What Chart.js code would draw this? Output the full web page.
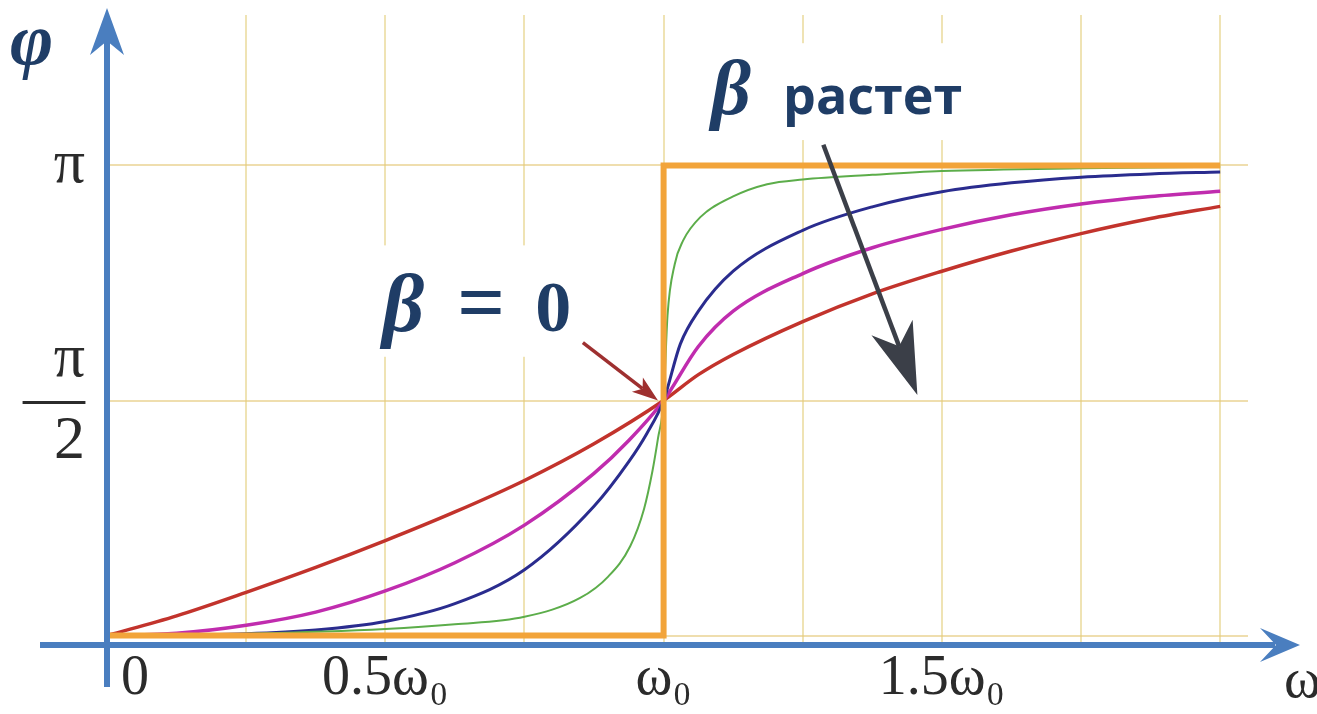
<!DOCTYPE html>
<html>
<head>
<meta charset="utf-8">
<script src="https://cdn.jsdelivr.net/npm/chart.js@4/dist/chart.umd.min.js"></script>
<style>
  html, body { margin: 0; padding: 0; background: #fff; }
  #wrap { width: 1317px; height: 714px; position: relative; }
</style>
</head>
<body>
<div id="wrap"><canvas id="phase"></canvas></div>
<script>
// frequency in units of ω0, phase in units of π
const omegaTicks = [0, 0.25, 0.5, 0.75, 1, 1.25, 1.5, 1.75, 2]
const omegaLabels = { 0: '\u20030', 0.5: '0.5ω₀', 1: 'ω₀', 1.5: '1.5ω₀' }
const phiTicks = [0, 0.5, 1]
const phiLabels = { 0.5: ['π', '—', '2'], 1: 'π' }

// β = 0 : ideal step at resonance
const stepW   = [0, 1, 1, 2]
const stepPhi = [0, 0, 1, 1]

// smallest damping
const greenW   = [0, 0.25, 0.5, 0.625, 0.75, 0.85, 0.9, 0.94, 0.965, 0.98, 0.99, 1, 1.007, 1.02, 1.035, 1.066, 1.125, 1.186, 1.25, 1.375, 1.5, 1.75, 2]
const greenPhi = [0, 0.004, 0.014, 0.024, 0.04, 0.08, 0.125, 0.19, 0.27, 0.35, 0.42, 0.5, 0.68, 0.79, 0.84, 0.89, 0.934, 0.96, 0.97, 0.98, 0.988, 0.994, 0.997]

const blueW   = [0, 0.25, 0.375, 0.5, 0.625, 0.75, 0.875, 0.9375, 0.97, 1, 1.03, 1.0625, 1.125, 1.25, 1.375, 1.5, 1.625, 1.75, 1.875, 2]
const bluePhi = [0, 0.004, 0.012, 0.03, 0.068, 0.14, 0.275, 0.37, 0.43, 0.5, 0.62, 0.69, 0.775, 0.862, 0.912, 0.944, 0.963, 0.975, 0.982, 0.986]

const magentaW   = [0, 0.125, 0.25, 0.375, 0.5, 0.625, 0.75, 0.875, 0.9375, 1, 1.0625, 1.125, 1.25, 1.375, 1.5, 1.625, 1.75, 1.875, 2]
const magentaPhi = [0, 0.005, 0.022, 0.05, 0.095, 0.155, 0.235, 0.345, 0.415, 0.5, 0.615, 0.69, 0.77, 0.825, 0.864, 0.895, 0.918, 0.934, 0.945]

// largest damping
const redW   = [0, 0.125, 0.25, 0.375, 0.5, 0.625, 0.75, 0.875, 1, 1.0625, 1.125, 1.25, 1.375, 1.5, 1.625, 1.75, 1.875, 2]
const redPhi = [0, 0.042, 0.092, 0.145, 0.202, 0.263, 0.33, 0.408, 0.5, 0.555, 0.598, 0.668, 0.727, 0.775, 0.818, 0.855, 0.887, 0.913]

const pts = (w, phi) => w.map((v, i) => ({ x: v, y: phi[i] }))

const AXIS_BLUE = '#4a7ebf'
const NAVY = '#1f3d66'
const SERIF = "'Liberation Serif', 'DejaVu Serif', serif"

function arrowHead(ctx, x1, y1, x2, y2, len, half, notch) {
  const dx = x2 - x1, dy = y2 - y1
  const d = Math.hypot(dx, dy)
  const ux = dx / d, uy = dy / d
  const bx = x2 - ux * len, by = y2 - uy * len
  ctx.beginPath()
  ctx.moveTo(x2, y2)
  ctx.lineTo(bx - uy * half, by + ux * half)
  ctx.lineTo(x2 - ux * len * notch, y2 - uy * len * notch)
  ctx.lineTo(bx + uy * half, by - ux * half)
  ctx.closePath()
  ctx.fill()
}

function arrow(ctx, x1, y1, x2, y2, color, width, len, half, notch) {
  const d = Math.hypot(x2 - x1, y2 - y1)
  const ex = x2 - (x2 - x1) / d * len * notch
  const ey = y2 - (y2 - y1) / d * len * notch
  ctx.strokeStyle = color
  ctx.fillStyle = color
  ctx.lineWidth = width
  ctx.beginPath()
  ctx.moveTo(x1, y1)
  ctx.lineTo(ex, ey)
  ctx.stroke()
  arrowHead(ctx, x1, y1, x2, y2, len, half, notch)
}

// white panels behind the two captions, placed in data space
const panels = [
  { w0: 0.437, w1: 0.90, p0: 0.83, p1: 0.593 },
  { w0: 1.051, w1: 1.572, p0: 1.26, p1: 1.054 }
]

const decorations = {
  id: 'decorations',
  beforeDatasetsDraw(chart) {
    const { ctx, scales: { x, y } } = chart
    ctx.save()
    ctx.fillStyle = '#fff'
    panels.forEach(p => {
      const l = x.getPixelForValue(p.w0), r = x.getPixelForValue(p.w1)
      const t = y.getPixelForValue(p.p0), b = y.getPixelForValue(p.p1)
      ctx.fillRect(l, t, r - l, b - t)
    })
    ctx.restore()
  },
  afterDatasetsDraw(chart) {
    const { ctx, chartArea: a, scales: { x, y } } = chart
    const x0 = x.getPixelForValue(0)
    ctx.save()

    // axes with arrow heads
    ctx.strokeStyle = AXIS_BLUE
    ctx.fillStyle = AXIS_BLUE
    ctx.lineWidth = 6
    ctx.beginPath()
    ctx.moveTo(40, a.bottom)
    ctx.lineTo(1275, a.bottom)
    ctx.moveTo(x0, a.bottom + 42)
    ctx.lineTo(x0, 40)
    ctx.stroke()
    arrowHead(ctx, 40, a.bottom, 1300, a.bottom, 40, 17, 0.6)
    arrowHead(ctx, x0, a.bottom, x0, 8, 47, 17, 0.7)

    // axis names
    ctx.fillStyle = NAVY
    ctx.font = `bold italic 74px ${SERIF}`
    ctx.textAlign = 'left'
    ctx.textBaseline = 'alphabetic'
    ctx.fillText('φ', 10, 64)
    ctx.fillStyle = '#2b2b2b'
    ctx.font = `56px ${SERIF}`
    ctx.fillText('ω', 1284, 697)

    // β = 0 caption with a pointer to the crossing point
    const p1 = panels[0]
    const bx = x.getPixelForValue(p1.w0), by = y.getPixelForValue(p1.p0)
    ctx.fillStyle = NAVY
    ctx.font = `bold italic 82px ${SERIF}`
    ctx.fillText('β', bx + 32, by + 86)
    ctx.font = `bold 84px ${SERIF}`
    ctx.fillText('=', bx + 107, by + 86)
    ctx.font = `bold 72px ${SERIF}`
    ctx.fillText('0', bx + 185, by + 86)
    arrow(ctx, x.getPixelForValue(0.855), y.getPixelForValue(0.623),
      x.getPixelForValue(0.99), y.getPixelForValue(0.5), '#9e3030', 3.5, 26, 9, 0.75)

    // "β растет" caption with the trend arrow
    const p2 = panels[1]
    const cx = x.getPixelForValue(p2.w0), cy = y.getPixelForValue(p2.p0)
    ctx.fillStyle = NAVY
    ctx.font = `bold italic 78px ${SERIF}`
    ctx.fillText('β', cx + 19, cy + 71)
    ctx.font = "bold 52px 'Open Sans', 'Noto Sans', sans-serif"
    ctx.fillText('растет', cx + 91, cy + 71)
    arrow(ctx, x.getPixelForValue(1.287), y.getPixelForValue(1.044),
      x.getPixelForValue(1.456), y.getPixelForValue(0.512), '#3b3f48', 4.5, 72, 22, 0.72)

    ctx.restore()
  }
}

const line = (data, color, width, order) => ({
  data, borderColor: color, borderWidth: width, order,
  pointRadius: 0, fill: false, cubicInterpolationMode: 'monotone'
})

// keep the plot area exactly where the axes are, without label overhang
const noOverhang = s => { s.paddingTop = 0; s.paddingBottom = 0; s.paddingLeft = 0; s.paddingRight = 0 }

new Chart(document.getElementById('phase'), {
  type: 'line',
  data: {
    datasets: [
      { ...line(pts(stepW, stepPhi), '#f2a43a', 6, 0), cubicInterpolationMode: 'default', tension: 0 },
      line(pts(greenW, greenPhi), '#5cad4a', 2, 1),
      line(pts(blueW, bluePhi), '#2a2c8e', 3, 2),
      line(pts(magentaW, magentaPhi), '#c02cae', 3.5, 3),
      line(pts(redW, redPhi), '#c2332c', 3.5, 4)
    ]
  },
  options: {
    responsive: true,
    maintainAspectRatio: false,
    animation: false,
    layout: { padding: { top: 15, right: 69, bottom: 0, left: 0 } },
    plugins: { legend: { display: false }, tooltip: { enabled: false } },
    scales: {
      x: {
        type: 'linear',
        min: 0,
        max: 2.05,
        afterBuildTicks: s => { s.ticks = omegaTicks.map(v => ({ value: v })) },
        afterFit: s => { s.height = 69; noOverhang(s) },
        border: { display: false },
        grid: { color: 'rgba(228, 208, 130, 0.6)', lineWidth: 2, drawTicks: false },
        ticks: {
          padding: 1,
          maxRotation: 0,
          autoSkip: false,
          color: '#2b2b2b',
          font: { family: SERIF, size: 56 },
          callback: v => omegaLabels[v] || ''
        }
      },
      y: {
        type: 'linear',
        min: -0.02,
        max: 1.32,
        afterBuildTicks: s => { s.ticks = phiTicks.map(v => ({ value: v })) },
        afterFit: s => { s.width = 107; noOverhang(s) },
        border: { display: false },
        grid: { color: 'rgba(228, 200, 120, 0.6)', lineWidth: 2, drawTicks: false },
        ticks: {
          padding: 22,
          color: '#2b2b2b',
          font: { family: SERIF, size: 62, lineHeight: 0.66 },
          callback: v => phiLabels[v] || ''
        }
      }
    }
  },
  plugins: [decorations]
})
</script>
</body>
</html>
